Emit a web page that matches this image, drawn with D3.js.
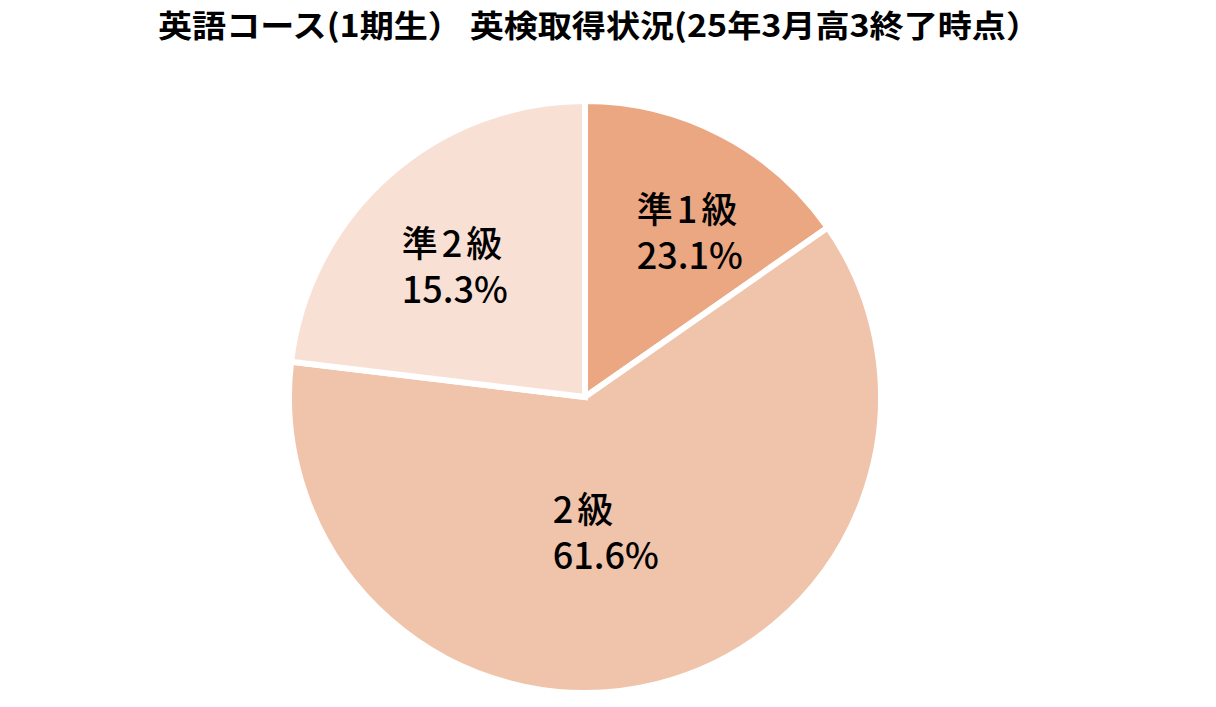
<!DOCTYPE html>
<html>
<head>
<meta charset="utf-8">
<script src="https://cdn.jsdelivr.net/npm/d3@7"></script>
<style>
html,body{margin:0;padding:0;background:#fff;}
svg{display:block;}
</style>
</head>
<body>
<svg id="chart" width="1216" height="707"></svg>
<script>
// Data
const categories = ["準1級", "2級", "準2級"];
const sliceValues = [15.3, 61.6, 23.1];
const percentLabels = ["23.1%", "61.6%", "15.3%"];
const colors = ["#EBA682", "#F0C3AB", "#F9E0D5"];
const titleText = "英語コース(1期生） 英検取得状況(25年3月高3終了時点）";

// Layout
const W = 1216, H = 707;
const cx = 585, cy = 397, R = 296;
const labelRadius = [197, 135, 186];
const labelAngleShift = [0.08, 0.09, -0.05];

const svg = d3.select("#chart");

svg.append("text")
  .attr("x", 599).attr("y", 37)
  .attr("text-anchor", "middle")
  .attr("font-family", "'Noto Sans CJK JP', sans-serif")
  .attr("font-weight", 700)
  .attr("font-size", 31)
  .attr("textLength", 882)
  .attr("lengthAdjust", "spacingAndGlyphs")
  .attr("fill", "#000")
  .text(titleText);

const pie = d3.pie().sort(null).value(d => d.v);
const data = categories.map((c, i) => ({c, v: sliceValues[i], p: percentLabels[i], col: colors[i], i}));
const arcs = pie(data);
const arc = d3.arc().innerRadius(0).outerRadius(R);

const g = svg.append("g").attr("transform", `translate(${cx},${cy})`);
g.selectAll("path").data(arcs).join("path")
  .attr("d", arc)
  .attr("fill", d => d.data.col)
  .attr("stroke", "#fff")
  .attr("stroke-width", 6)
  .attr("stroke-linejoin", "miter");

arcs.forEach((a, i) => {
  const mid = (a.startAngle + a.endAngle) / 2 + labelAngleShift[i];
  const r = labelRadius[i];
  const x = Math.sin(mid) * r, y = -Math.cos(mid) * r;
  const t = g.append("text")
    .attr("font-family", "'Noto Sans CJK JP', sans-serif")
    .attr("font-weight", 500)
    .attr("font-size", 36)
    .attr("fill", "#000");
  t.append("tspan").attr("x", 0).attr("y", 0).attr("letter-spacing", 4).text(a.data.c);
  t.append("tspan").attr("x", 0).attr("y", 46).text(a.data.p);
  const bb = t.node().getBBox();
  const cxText = bb.x + bb.width / 2, cyText = bb.y + bb.height / 2;
  t.attr("transform", `translate(${x - cxText},${y - cyText})`);
});
</script>
</body>
</html>
